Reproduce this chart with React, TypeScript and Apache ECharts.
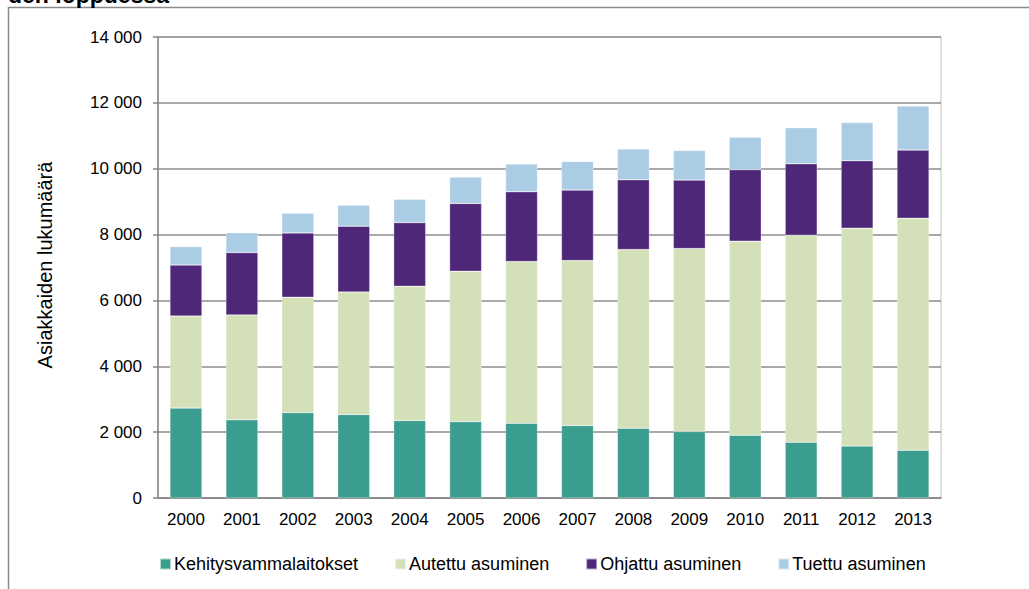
import React, { useEffect, useRef } from "react";
import * as echarts from "echarts";

const years = ["2000", "2001", "2002", "2003", "2004", "2005", "2006", "2007", "2008", "2009", "2010", "2011", "2012", "2013"];
const kehitysvammalaitokset = [2730, 2375, 2595, 2535, 2355, 2320, 2270, 2200, 2120, 2020, 1905, 1695, 1580, 1450];
const autettuAsuminen = [2795, 3185, 3500, 3720, 4075, 4565, 4910, 5010, 5425, 5555, 5895, 6285, 6615, 7045];
const ohjattuAsuminen = [1550, 1895, 1955, 2000, 1935, 2060, 2120, 2140, 2120, 2080, 2170, 2170, 2050, 2070];
const tuettuAsuminen = [560, 600, 600, 640, 710, 800, 840, 870, 930, 900, 985, 1095, 1155, 1340];

const seriesNames = ["Kehitysvammalaitokset", "Autettu asuminen", "Ohjattu asuminen", "Tuettu asuminen"];
const seriesData = [kehitysvammalaitokset, autettuAsuminen, ohjattuAsuminen, tuettuAsuminen];
const colors = ["#3a9d8e", "#d3e0b8", "#4f2779", "#aacde5"];

const yAxisTitle = "Asiakkaiden lukumäärä";
const titleFragment = "den loppuessa";

const FONT = "'Liberation Sans', Arial, sans-serif";

function fmt(v: number): string {
  return String(v).replace(/\B(?=(\d{3})+(?!\d))/g, " ");
}

export default function App() {
  const ref = useRef<HTMLDivElement>(null);
  useEffect(() => {
    if (!ref.current) return;
    const chart = echarts.init(ref.current, null, { renderer: "svg" });
    chart.setOption({
      animation: false,
      backgroundColor: "#ffffff",
      textStyle: { fontFamily: FONT },
      grid: {
        left: 158,
        right: 88,
        top: 37,
        bottom: 91,
        show: true,
        borderColor: "#c0c0c0",
        borderWidth: 1,
        backgroundColor: "transparent",
      },
      legend: {
        left: 154,
        top: 550,
        itemWidth: 11,
        itemHeight: 11,
        itemGap: 36,
        icon: "rect",
        data: seriesNames,
        textStyle: { fontFamily: FONT, fontSize: 18, color: "#000000", padding: [0, 0, 0, -2] },
      },
      xAxis: {
        type: "category",
        data: years,
        axisLine: { show: true, lineStyle: { color: "#868686", width: 1.5 } },
        axisTick: { show: false },
        axisLabel: { color: "#000000", fontFamily: FONT, fontSize: 17, margin: 13 },
      },
      yAxis: {
        type: "value",
        min: 0,
        max: 14000,
        interval: 2000,
        axisLine: { show: true, lineStyle: { color: "#868686", width: 1.5 } },
        axisTick: { show: true, length: 5, lineStyle: { color: "#868686", width: 1.5 } },
        axisLabel: { color: "#000000", fontFamily: FONT, fontSize: 17, margin: 16, formatter: (v: number) => fmt(v) },
        splitLine: { show: true, lineStyle: { color: "#8c8c8c", width: 1.5 } },
      },
      series: seriesNames.map((name, i) => ({
        name,
        type: "bar",
        stack: "total",
        barWidth: 32,
        data: seriesData[i],
        itemStyle: { color: colors[i], borderColor: "rgba(255,255,255,0.6)", borderWidth: 0.5 },
      })),
      graphic: [
        {
          type: "rect",
          shape: { x: 8.5, y: 7.5, width: 1200, height: 800 },
          style: { fill: "none", stroke: "#8a8a8a", lineWidth: 1.5 },
          silent: true,
        },
        {
          type: "text",
          x: 8,
          y: 6,
          style: {
            text: titleFragment,
            fontFamily: FONT,
            fontSize: 23,
            fontWeight: "bold",
            fill: "#000000",
            textAlign: "left",
            textVerticalAlign: "bottom",
          },
          silent: true,
        },
        {
          type: "text",
          x: 45,
          y: 265,
          rotation: Math.PI / 2,
          style: {
            text: yAxisTitle,
            fontFamily: FONT,
            fontSize: 20,
            fill: "#000000",
            textAlign: "center",
            textVerticalAlign: "middle",
          },
          silent: true,
        },
      ],
    });
    return () => chart.dispose();
  }, []);
  return <div ref={ref} style={{ position: "fixed", left: 0, top: 0, width: 1029, height: 589 }} />;
}
